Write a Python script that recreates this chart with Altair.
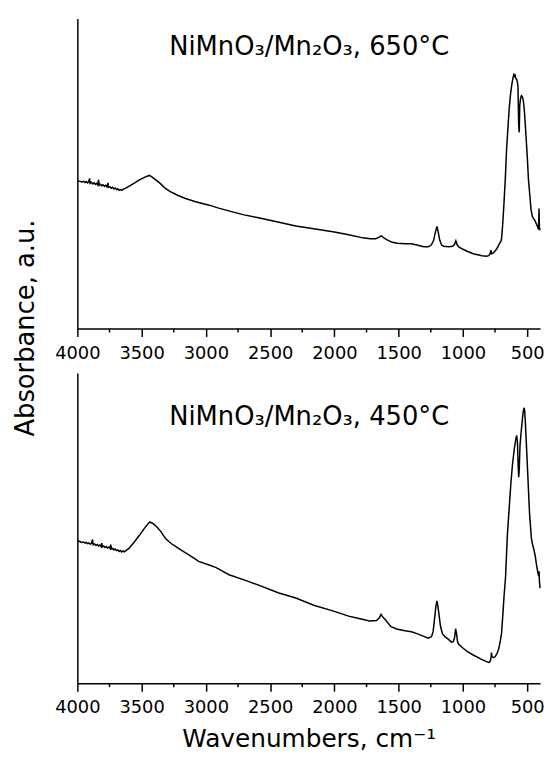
import altair as alt
import pandas as pd

# ---- Data (absorbance in arbitrary units) ----
wn_650 = [4000, 3980, 3965, 3950, 3940, 3930, 3920, 3912, 3905, 3900, 3890, 3880, 3870, 3860,
          3850, 3842, 3835, 3830, 3820, 3810, 3800, 3790, 3780, 3770, 3762, 3757, 3745, 3735,
          3725, 3715, 3705, 3695, 3685, 3675, 3665, 3655, 3645, 3635, 3620,
          3600, 3560, 3517, 3470, 3440, 3420, 3390, 3360, 3320, 3280, 3220,
          3164, 3080, 2974, 2900, 2800, 2703, 2600, 2432, 2300, 2161, 2000, 1889, 1780, 1720,
          1680, 1655, 1635, 1615, 1590, 1550, 1510, 1450, 1401, 1350, 1306, 1270, 1245, 1228,
          1213, 1202, 1192, 1180, 1165, 1150, 1110, 1080, 1065, 1055, 1045, 1030, 1000, 967,
          920, 886, 850, 818, 800, 790, 782, 777, 765, 745, 730, 715, 705, 700, 690, 680, 670,
          660, 650, 640, 630, 620, 612, 605, 600, 596, 590, 580, 572, 566, 562, 558, 552, 545,
          538, 530, 522, 512, 500, 490, 480, 470, 460, 450, 440, 430, 420, 412, 408, 405, 400]
ab_650 = [149, 148.5, 148, 148.6, 147.4, 148.2, 147, 148, 151.5, 146.5, 147.5, 146, 147, 145.5,
          146.5, 145, 150, 144.5, 145.5, 144, 145, 143.5, 144.5, 143, 147, 142.5, 143, 141.5,
          142.5, 140.8, 141.8, 140.2, 141, 139.5, 140.3, 139.5, 140.5, 141, 142,
          143.5, 146.5, 150, 153, 154.5, 153, 150, 147, 142, 138.5, 134.5,
          131.5, 128, 124.5, 121.5, 118, 114.7, 112, 107.3, 103.5, 100.7, 97.5, 94.7, 91.5, 90.5,
          90.5, 92, 93.5, 91.5, 89.5, 87, 86, 85.5, 85.5, 84, 82.5, 82.5, 84.5, 89,
          98, 103, 97, 89, 84, 83, 82.5, 83, 85, 88.5, 84.5, 82, 80, 78,
          75.5, 74.5, 73.5, 73, 73.5, 75, 79, 75.5, 76, 79, 82, 86, 88, 90, 106, 128, 152,
          182, 202, 222, 236, 246, 252, 256, 255, 257, 253, 251, 245, 205, 198, 225, 232, 235,
          234, 230, 220, 200, 175, 150, 135, 120, 113, 111, 109, 106, 103, 100, 121, 102, 99]

wn_450 = [4000, 3980, 3965, 3950, 3940, 3930, 3920, 3910, 3900, 3890, 3882, 3876, 3865, 3855,
          3845, 3835, 3825, 3815, 3810, 3805, 3795, 3785, 3775, 3765, 3755, 3745, 3740, 3735,
          3725, 3715, 3705, 3695, 3685, 3675, 3665, 3655, 3645, 3635, 3620,
          3598, 3560, 3517, 3480, 3450, 3436, 3410, 3381, 3350, 3314,
          3270, 3230, 3192, 3120, 3056, 2980, 2920, 2820, 2703, 2600, 2432, 2300, 2161, 2000,
          1889, 1800, 1727, 1672, 1650, 1637, 1625, 1600, 1560, 1510, 1450, 1401, 1347, 1300,
          1270, 1245, 1232, 1220, 1210, 1202, 1195, 1185, 1175, 1160, 1140, 1110, 1089, 1075,
          1065, 1057, 1050, 1042, 1035, 1000, 967, 920, 859, 820, 800, 790, 782, 778, 774, 765,
          750, 735, 723, 710, 700, 690, 680, 668, 654, 641, 628, 615, 600, 590, 582, 576, 570,
          566, 562, 556, 548, 540, 533, 527, 523, 519, 514, 505, 497, 490, 482, 473, 468, 462,
          450, 438, 428, 416, 410, 407, 405, 400]
ab_450 = [143.7, 143, 142, 142.5, 141.3, 142, 140.8, 141.5, 140.3, 141, 145, 139.5, 140.5, 139,
          140, 138.5, 139.5, 138, 141.5, 137.5, 138.5, 137, 138, 136.5, 137.5, 136, 140, 135.5,
          136, 134.5, 135.5, 133.8, 134.5, 133, 134, 132.5, 133.5, 132.5, 134,
          136, 142, 149.3, 156, 161, 162.7, 161, 157.7, 153, 146,
          141, 137.5, 134.3, 128.5, 123, 119.5, 116.7, 109.5, 104.3, 99.5, 91, 86, 78.7, 72.5,
          67.7, 65, 62.7, 63.3, 66, 69.5, 67, 63.5, 57, 54.5, 53, 52, 49.5, 47,
          45.5, 47, 52, 66, 78, 83, 78, 68, 58, 50, 47, 44, 41.5, 42,
          46, 55, 50, 42, 39.5, 35.5, 32, 28.5, 24.3, 22, 21, 21.5, 25, 31, 27, 26,
          26.5, 30, 34, 42, 50, 68, 88, 108, 150, 175, 200, 220, 237, 245, 250, 244, 218,
          208, 215, 240, 252, 263, 272, 276.5, 278, 274, 262, 238, 215, 195, 172, 156, 147, 142,
          136, 129, 120, 111, 108, 113, 103, 96]

major_ticks = [4000, 3500, 3000, 2500, 2000, 1500, 1000, 500]
minor_ticks = [3750, 3250, 2750, 2250, 1750, 1250, 750]
x_domain = [400, 4000]
y_domain = [0, 313]
title_650 = "NiMnO\u2083/Mn\u2082O\u2083, 650\u00b0C"
title_450 = "NiMnO\u2083/Mn\u2082O\u2083, 450\u00b0C"
x_title = "Wavenumbers, cm\u207b\u00b9"
y_title = "Absorbance, a.u."

FONT = "DejaVu Sans"
W, H = 467, 313


def panel(wn, ab, label, label_y, xtitle, ytitle):
    df = pd.DataFrame({"wn": wn, "ab": ab})
    x_axis_kw = dict(
        values=major_ticks,
        format="d",
        tickSize=8,
        tickWidth=1.5,
        domainWidth=1.5,
        labelFontSize=18,
        labelPadding=8,
        labelOverlap=False,
        labelFlush=False,
        labelBound=False,
        grid=False,
    )
    if xtitle:
        x_axis = alt.Axis(title=xtitle, titleFontSize=25, titleFontWeight="normal",
                          titleBaseline="alphabetic", titleY=64, **x_axis_kw)
    else:
        x_axis = alt.Axis(title=None, **x_axis_kw)
    y_kw = dict(ticks=False, labels=False, domainWidth=1.5, grid=False)
    if ytitle:
        y_axis = alt.Axis(title=ytitle, titleFontSize=26, titleFontWeight="normal",
                          titleAngle=-90, titleBaseline="alphabetic", titleAlign="center",
                          titleX=-44, titleY=312, **y_kw)
    else:
        y_axis = alt.Axis(title=None, **y_kw)

    xscale = alt.Scale(domain=x_domain, reverse=True, nice=False, zero=False)
    line = alt.Chart(df).mark_line(color="black", strokeWidth=1.5).encode(
        x=alt.X("wn:Q", scale=xscale, axis=x_axis),
        y=alt.Y("ab:Q", scale=alt.Scale(domain=y_domain, nice=False, zero=False), axis=y_axis),
        order="wn:Q",
    )
    minor = alt.Chart(pd.DataFrame({"wn": minor_ticks})).mark_rule(
        color="black", strokeWidth=1.5
    ).encode(x=alt.X("wn:Q"), y=alt.value(H), y2=alt.value(H + 4))
    txt = alt.Chart(pd.DataFrame({"t": [label]})).mark_text(
        font=FONT, fontSize=26, align="center", baseline="alphabetic", color="black"
    ).encode(text="t:N", x=alt.value(234), y=alt.value(label_y))
    return alt.layer(line, minor, txt).properties(width=W, height=H)


top = panel(wn_650, ab_650, title_650, 37, None, y_title)
bottom = panel(wn_450, ab_450, title_450, 52, x_title, None)

chart = alt.vconcat(top, bottom, spacing=45, bounds="flush").properties(
    padding={"left": 5, "top": 7, "right": 0, "bottom": 5},
).configure_view(stroke=None).configure_axis(
    labelFont=FONT, titleFont=FONT, labelColor="black", titleColor="black",
    domainColor="black", tickColor="black"
)

chart.save("out.html", embed_options={"renderer": "svg", "actions": False})
